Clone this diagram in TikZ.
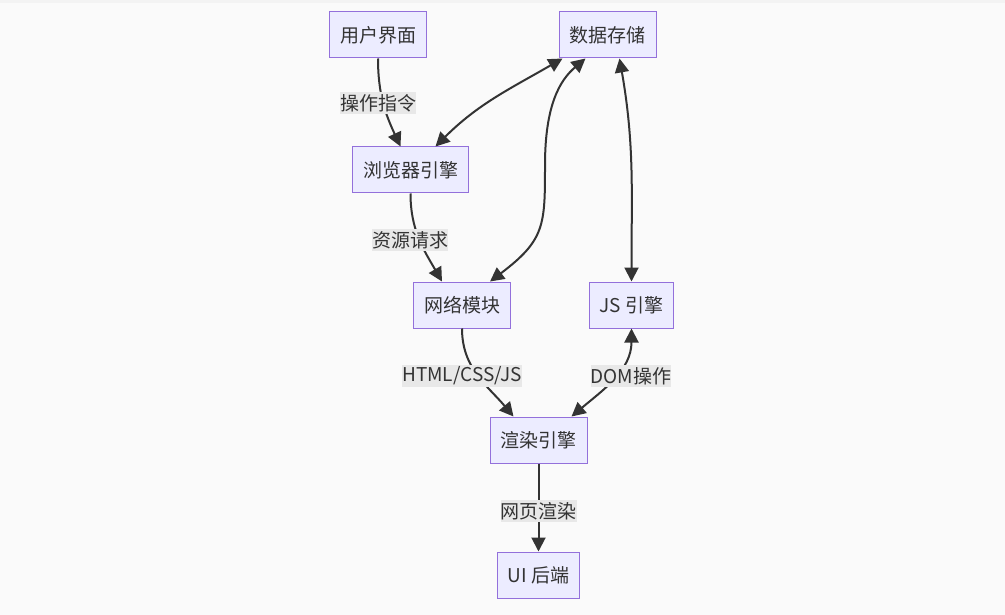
\documentclass[tikz,border=0pt]{standalone}
\usepackage{fontspec}
\setmainfont{Noto Sans CJK SC}
\usepackage{xcolor}
\usepackage{tikz}
\usetikzlibrary{arrows.meta, positioning}

\definecolor{bgcol}{HTML}{FAFAFA}
\definecolor{bandcol}{HTML}{F3F3F3}
\definecolor{boxfill}{HTML}{ECECFF}
\definecolor{boxline}{HTML}{9370DB}
\definecolor{edgecol}{HTML}{333333}
\definecolor{lblfill}{HTML}{E8E8E8}

\tikzset{
	box/.style={draw=boxline, fill=boxfill, line width=1pt, minimum height=46pt, inner xsep=10.5pt, text=edgecol, font=\fontsize{19}{22}\selectfont},
	flow/.style={draw=edgecol, line width=2pt, -{Triangle[length=14pt,width=14pt]}},
	both/.style={flow, {Triangle[length=14pt,width=14pt]}-{Triangle[length=14pt,width=14pt]}},
	lbl/.style={fill=lblfill, text=edgecol, inner xsep=0pt, inner ysep=2pt, font=\fontsize{19}{22}\selectfont}
}

\begin{document}
\begin{tikzpicture}[x=1pt, y=-1pt]
		% Canvas
		\fill[bgcol] (0,0) rectangle (1005,615);
		\fill[bandcol] (0,0) rectangle (1005,3);
		\useasboundingbox (0,0) rectangle (1005,615);
		% Components
		\node[box] (ui) at (378,35) {用户界面};
		\node[box] (store) at (607.5,35) {数据存储};
		\node[box] (engine) at (410.5,170) {浏览器引擎};
		\node[box] (net) at (462,305) {网络模块};
		\node[box] (js) at (631.5,305) {JS 引擎};
		\node[box] (render) at (538.5,440) {渲染引擎};
		\node[box] (backend) at (538.5,575) {UI 后端};
		% Connections
		\draw[flow] (ui.south) to[out=-90,in=115] ([xshift=-10pt]engine.north);
		\draw[both] ([xshift=25pt]engine.north) to[out=45,in=-150] ([xshift=-45pt]store.south);
		\draw[both] ([xshift=28pt]net.north) .. controls (545,240) and (545,225) .. (545,165)
			.. controls (545,105) and (560,80) .. ([xshift=-22pt]store.south);
		\draw[both] ([xshift=12pt]store.south) to[out=-80,in=90] (js.north);
		\draw[flow] (engine.south) to[out=-90,in=120] ([xshift=-20pt]net.north);
		\draw[flow] (net.south) to[out=-90,in=130] ([xshift=-25pt]render.north);
		\draw[both] (js.south) to[out=-90,in=40] ([xshift=33pt]render.north);
		\draw[flow] (render.south) -- (backend.north);
		% Edge labels
		\node[lbl] (l1) at (378,103) {操作指令};
		\node[lbl] (l2) at (410,240) {资源请求};
		\node[lbl] (l3) at (462,376) {HTML/CSS/JS};
		\node[lbl] (l4) at (631,376) {DOM操作};
		\node[lbl] (l5) at (538.5,511) {网页渲染};
	\end{tikzpicture}
\end{document}
